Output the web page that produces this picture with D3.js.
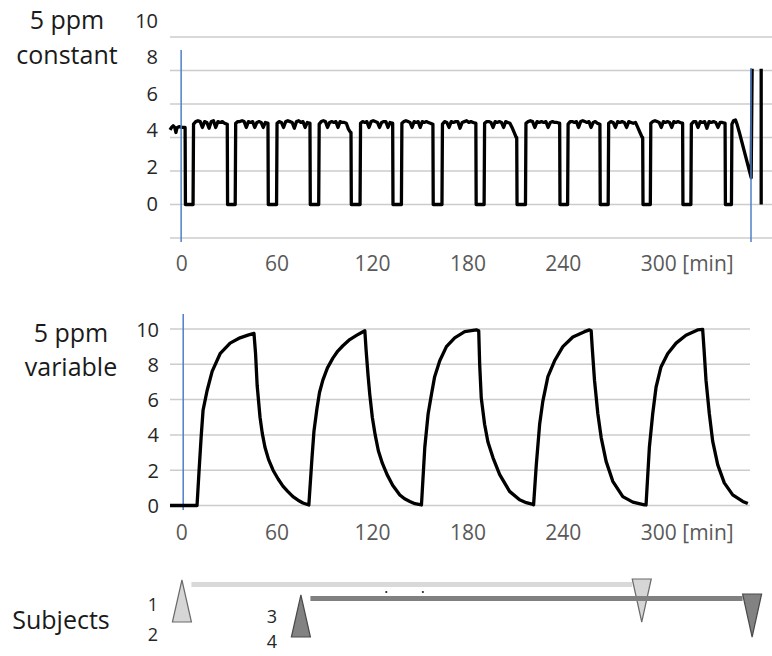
<!DOCTYPE html>
<html><head><meta charset="utf-8">
<script src="https://cdn.jsdelivr.net/npm/d3@7"></script>
<style>
body{margin:0;background:#fff}
svg{display:block}
text{font-family:"Open Sans",sans-serif}
</style>
</head><body>
<svg id="chart" width="772" height="656"></svg>
<script>
// ---------------- DATA ----------------
const xTickValues = [0, 60, 120, 180, 240, 300];
const xUnit = "[min]";
const constTitle = ["5 ppm", "constant"];
const varTitle = ["5 ppm", "variable"];
const subjectsTitle = "Subjects";

const yTicksConst = [0, 2, 4, 6, 8, 10];
const yGridConst = [-2, 0, 2, 4, 6, 8, 10];
const yTicksVar = [0, 2, 4, 6, 8, 10];

// 5 ppm constant: exposure trace (min, ppm)
const constLead = [[-7,4.45],[-6,4.6],[-5,4.7],[-4,4.6],[-3.3,4.3],[-2.5,4.6],[-1,4.65],[0.5,4.6],[2.3,4.6]];
const constFall = [2.5, 29, 54.6, 81, 106.8, 133, 158.3, 185.3, 211, 238, 263.3, 290.2, 315.3, 342];
const constRise = [7.5, 34, 60, 86.5, 112.5, 138.5, 164, 190.5, 216.5, 243, 268.5, 295, 320.5];
const constPlateaus = [
  [4.8,4.95,5.0,4.95,4.6,4.95,4.9,4.55,4.95,5.0,4.6,4.95,4.9,4.95,4.85,4.8],
  [4.85,4.95,4.95,5.0,4.95,4.6,4.95,4.9,4.95,4.6,4.9,4.95,4.9,4.6,4.9,4.85],
  [4.85,4.95,4.9,4.6,4.95,5.0,4.95,4.9,4.55,4.95,5.0,4.9,4.95,4.6,4.9,4.85],
  [4.8,4.95,5.0,4.95,4.6,4.9,4.95,4.9,4.95,4.6,4.95,4.9,4.9,4.85,4.5,4.3],
  [4.85,4.95,4.9,4.95,4.6,4.95,5.0,4.95,4.9,4.6,4.9,4.95,4.95,4.6,4.9,4.85],
  [4.85,4.95,5.0,4.95,4.9,4.6,4.95,4.9,4.95,4.6,4.95,4.9,4.95,4.9,4.85,4.8],
  [4.8,4.95,4.9,4.6,4.95,4.9,4.95,4.95,4.55,4.9,4.95,5.0,4.9,4.95,4.9,4.85],
  [4.85,4.95,4.95,4.9,4.6,4.95,4.9,4.95,4.9,4.6,4.95,4.9,4.85,4.6,4.3,4.0],
  [4.85,4.95,5.0,4.95,4.6,4.95,4.9,4.95,4.9,4.95,4.6,4.9,4.95,4.9,4.9,4.85],
  [4.8,4.95,4.95,4.9,4.95,4.6,4.95,5.0,4.95,4.9,4.95,4.6,4.9,4.95,4.85,4.8],
  [4.85,4.95,4.9,4.6,4.95,4.9,4.95,4.9,4.6,4.95,4.9,4.85,4.9,4.6,4.3,4.0],
  [4.85,4.95,5.0,4.95,4.9,4.6,4.95,4.9,4.95,4.9,4.6,4.95,4.9,4.95,4.9,4.85],
  [4.8,4.95,4.95,4.6,4.95,4.9,4.95,4.55,4.95,4.9,4.95,4.9,4.6,4.9,4.9,4.85]
];
const constTail = [[346,0],[346.3,4.8],[347.3,5.0],[348.5,5.05],[349.5,4.8],[351,4.3],[358.4,1.6],[359,8.1],null,[364.7,8.1],[364.7,0]];

// 5 ppm variable: exposure trace (min, ppm)
const varLead = [[-7,0],[10.0,0]];
const varCycle1 = [[10.0,0],[11.3,2.0],[12.6,3.9],[13.8,5.4],[16.3,6.5],[19.5,7.6],[24.5,8.6],[30.8,9.2],[37,9.5],[42,9.65],[45.8,9.75],[46.8,8.6],[47.8,6.8],[49.6,5.0],[51,4.1],[52.7,3.3],[55,2.6],[57.8,2.0],[61,1.5],[64,1.1],[67,0.8],[70.3,0.5],[73.5,0.3],[76.6,0.14],[80.3,0.03]];
const varCycle2 = [[80.3,0.03],[82.2,2.6],[83.5,4.2],[85.4,5.5],[87,6.4],[89.1,7.1],[92,7.8],[95.4,8.35],[98.5,8.75],[101.7,9.05],[106,9.4],[110.5,9.65],[113.5,9.8],[115.5,9.9],[116.3,8.8],[117.5,7.4],[118.6,6.3],[120.2,5.0],[122,4.0],[124,3.1],[126.5,2.4],[129.5,1.75],[133,1.15],[137.5,0.6],[140.5,0.38],[143.8,0.23],[147,0.1],[151.1,0.03]];
const varCycle3 = [[151.1,0.03],[153.2,3.3],[155.3,5.2],[157.4,6.3],[159.4,7.3],[162.6,8.2],[166.8,9.0],[172,9.5],[178.3,9.85],[185.6,9.95],[187.1,9.9],[187.7,8.0],[188.7,6.1],[190.8,4.6],[192.9,3.6],[196.1,2.7],[200.3,1.75],[206.5,0.8],[212.8,0.32],[217,0.16],[221.2,0.06]];
const varCycle4 = [[221.6,0.04],[223.3,2.3],[225.4,4.6],[227.4,5.9],[230.6,7.3],[234.8,8.2],[240,9.0],[246.3,9.55],[253.6,9.85],[256.7,9.95],[257.8,9.9],[258.5,8.9],[259.9,7.1],[262,5.2],[264.1,3.85],[267.2,2.5],[271.4,1.37],[277.7,0.5],[284,0.19],[291.3,0.04]];
const varCycle5 = [[292.3,0.03],[294.4,3.3],[296.5,5.2],[298.6,6.7],[301.7,7.85],[305.9,8.6],[311.2,9.2],[317.4,9.65],[324.7,9.95],[327.9,9.98],[328.8,8.8],[330,7.1],[332.1,5.2],[334.2,3.65],[337.4,2.3],[341.5,1.28],[346.8,0.6],[353.1,0.23],[356.3,0.11]];

// exposure markers (min)
const constMarkers = [0, 358.3];
const varMarkers = [1.3];

// subjects
const subjectLabels = [["1","2"],["3","4"]];
const subjectStart = [0.5, 75.3];
const subjectEnd = [289.6, 359];
const subjectDots = [129, 152];

// ---------------- DRAW ----------------
const svg = d3.select("#chart");
const x = d3.scaleLinear().domain([-7, 371.5]).range([170, 772]);
const yConstGrid = d3.scaleLinear().domain([-2, 10]).range([238, 37]);
const yConstLabel = d3.scaleLinear().domain([0, 10]).range([203, 20]);
const yVar = d3.scaleLinear().domain([0, 10]).range([505.5, 329]);

const gridColor = "#cccccc";
const blue = "#4f7fc8";
const traceW = 3.3;

function titleText(lines, cx, ys, size) {
  lines.forEach((t, i) => {
    svg.append("text").attr("x", cx).attr("y", ys[i]).attr("dy", "0.35em")
      .attr("text-anchor", "middle").attr("font-size", size).attr("fill", "#1a1a1a").text(t);
  });
}

// ---- Top panel ----
svg.append("g").selectAll("line").data(yGridConst).join("line")
  .attr("x1", 170).attr("x2", 772)
  .attr("y1", d => yConstGrid(d)).attr("y2", d => yConstGrid(d))
  .attr("stroke", gridColor).attr("stroke-width", 1.5);

const yAxC = svg.append("g").attr("transform", "translate(158,0)")
  .call(d3.axisLeft(yConstLabel).tickValues(yTicksConst).tickSize(0).tickPadding(0));
yAxC.select(".domain").remove();
yAxC.selectAll("text").attr("font-size", 20).attr("fill", "#262626").attr("font-family", "Open Sans").attr("dy", "0.35em");

function xAxis(yPos) {
  const g = svg.append("g").attr("transform", `translate(0,${yPos})`)
    .call(d3.axisBottom(x).tickValues(xTickValues).tickSize(0).tickPadding(0));
  g.select(".domain").remove();
  g.selectAll("text").attr("font-size", 21).attr("fill", "#595959")
    .attr("font-family", "Open Sans").attr("y", 0).attr("dy", "0.35em");
  const last = g.selectAll(".tick text").filter(d => d === 300);
  const w = last.node().getComputedTextLength();
  svg.append("text").attr("x", x(300) + w / 2 + 6).attr("y", yPos).attr("dy", "0.35em")
    .attr("font-size", 21).attr("fill", "#595959").text(xUnit);
}
xAxis(264);

// constant trace
const constPts = constLead.slice();
constFall.forEach((f, i) => {
  constPts.push([f, constPts[constPts.length - 1][1]]);
  constPts.push([f + 0.2, 0]);
  if (i < constRise.length) {
    const r = constRise[i];
    const nextF = constFall[i + 1];
    constPts.push([r, 0]);
    const vals = constPlateaus[i];
    const t0 = r + 0.3, t1 = nextF - 0.3;
    vals.forEach((v, k) => constPts.push([t0 + (t1 - t0) * k / (vals.length - 1), v]));
  }
});
constTail.forEach(p => constPts.push(p));

const line = d3.line().defined(d => d !== null).x(d => x(d[0]));
svg.append("path").datum(constPts)
  .attr("d", line.y(d => yConstGrid(d[1])))
  .attr("fill", "none").attr("stroke", "#000").attr("stroke-width", traceW)
  .attr("stroke-linejoin", "round");

// blue markers top
svg.append("line").attr("x1", x(constMarkers[0])).attr("x2", x(constMarkers[0]))
  .attr("y1", 50).attr("y2", 242).attr("stroke", blue).attr("stroke-width", 1.5);
svg.append("line").attr("x1", x(constMarkers[1])).attr("x2", x(constMarkers[1]))
  .attr("y1", 68).attr("y2", 242).attr("stroke", blue).attr("stroke-width", 1.5);

titleText(constTitle, 67, [20, 55], 25);

// ---- Bottom panel ----
svg.append("g").selectAll("line").data(yTicksVar).join("line")
  .attr("x1", 170).attr("x2", 750)
  .attr("y1", d => yVar(d)).attr("y2", d => yVar(d))
  .attr("stroke", gridColor).attr("stroke-width", 1.5);

const yAxV = svg.append("g").attr("transform", "translate(159,0)")
  .call(d3.axisLeft(yVar).tickValues(yTicksVar).tickSize(0).tickPadding(0));
yAxV.select(".domain").remove();
yAxV.selectAll("text").attr("font-size", 20).attr("fill", "#262626").attr("font-family", "Open Sans").attr("dy", "0.35em");

xAxis(533);

svg.append("line").attr("x1", x(varMarkers[0])).attr("x2", x(varMarkers[0]))
  .attr("y1", 314).attr("y2", 510).attr("stroke", blue).attr("stroke-width", 1.5);

const varPts = [].concat(varLead, varCycle1, varCycle2, varCycle3, varCycle4, varCycle5);
svg.append("path").datum(varPts)
  .attr("d", d3.line().x(d => x(d[0])).y(d => yVar(d[1])))
  .attr("fill", "none").attr("stroke", "#000").attr("stroke-width", traceW)
  .attr("stroke-linejoin", "round");

titleText(varTitle, 71, [333, 367], 25);

// ---- Subjects ----
svg.append("text").attr("x", 61).attr("y", 620).attr("dy", "0.35em")
  .attr("text-anchor", "middle").attr("font-size", 25).attr("fill", "#1a1a1a").text(subjectsTitle);

const subjStyle = [
  {fill: "#d6d6d6", bar: "#d9d9d9", stroke: "#6a6a6a", top: 580, bot: 622, barY: 584.5, l1: 605, l2: 635},
  {fill: "#828282", bar: "#808080", stroke: "#4a4a4a", top: 595, bot: 637, barY: 598.5, l1: 617, l2: 642}
];
const hw = 9.5;
subjectStart.forEach((s, i) => {
  const st = subjStyle[i];
  const xs = x(s), xe = x(subjectEnd[i]);
  svg.append("line").attr("x1", xs + hw).attr("x2", xe - hw)
    .attr("y1", st.barY).attr("y2", st.barY).attr("stroke", st.bar).attr("stroke-width", 5);
  svg.append("path").attr("d", `M${xs},${st.top}L${xs + hw},${st.bot}L${xs - hw},${st.bot}Z`)
    .attr("fill", st.fill).attr("stroke", st.stroke).attr("stroke-width", 1.2);
  svg.append("path").attr("d", `M${xe - hw},${st.top - 1}L${xe + hw},${st.top - 1}L${xe},${st.bot}Z`)
    .attr("fill", st.fill).attr("stroke", st.stroke).attr("stroke-width", 1.2);
  svg.append("text").attr("x", xs - 29).attr("y", st.l1).attr("dy", "0.35em")
    .attr("text-anchor", "middle").attr("font-size", 18).attr("fill", "#262626").text(subjectLabels[i][0]);
  svg.append("text").attr("x", xs - 29).attr("y", st.l2).attr("dy", "0.35em")
    .attr("text-anchor", "middle").attr("font-size", 18).attr("fill", "#262626").text(subjectLabels[i][1]);
});
svg.selectAll(".sdot").data(subjectDots).join("circle").attr("class", "sdot")
  .attr("cx", d => x(d)).attr("cy", 592).attr("r", 1.1).attr("fill", "#222");
</script>
</body></html>
